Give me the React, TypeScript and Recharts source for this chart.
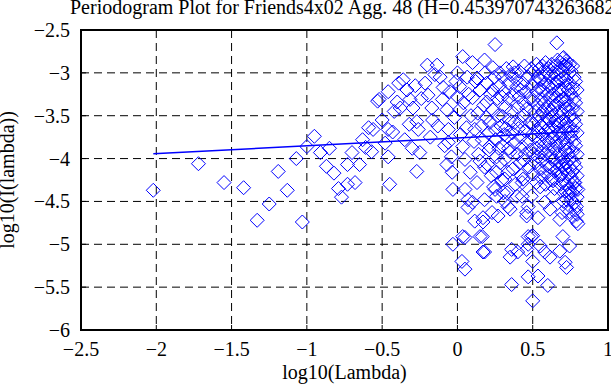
import React from 'react';
import { ScatterChart, Scatter, XAxis, YAxis, CartesianGrid, ReferenceArea } from 'recharts';

type Pt = [number, number];

const titleText = 'Periodogram Plot for Friends4x02 Agg. 48 (H=0.453970743263682)';
const xLabel = 'log10(Lambda)';
const yLabel = 'log10(I(lambda))';
const xTicks = [-2.5, -2, -1.5, -1, -0.5, 0, 0.5, 1];
const yTicks = [-6, -5.5, -5, -4.5, -4, -3.5, -3, -2.5];

// fitted regression line end points
const fitX = [-2.02, 0.8];
const fitY = [-3.945, -3.685];

// x < -0.5
const lowFreq: Pt[] = [
  [-2.02, -4.37], [-1.72, -4.06], [-1.55, -4.28], [-1.42, -4.34], [-1.33, -4.72], [-1.25, -4.53],
  [-1.19, -4.15], [-1.13, -4.37], [-1.07, -4.0], [-1.03, -4.74], [-1.0, -3.86], [-0.95, -3.74],
  [-0.91, -3.93], [-0.85, -3.88], [-0.87, -4.09], [-0.82, -4.17], [-0.79, -4.35], [-0.77, -4.45],
  [-0.73, -4.3], [-0.73, -4.07], [-0.7, -3.93], [-0.68, -4.28], [-0.65, -4.07], [-0.63, -3.78],
  [-0.61, -3.87], [-0.59, -3.64], [-0.57, -3.92], [-0.56, -3.66], [-0.53, -3.33],
];

// -0.5 .. 0
const midFreqA: Pt[] = [
  [-0.52, -3.31], [-0.5, -3.55], [-0.48, -3.82], [-0.46, -3.22], [-0.46, -3.66], [-0.46, -3.98],
  [-0.45, -4.3], [-0.43, -3.69], [-0.42, -3.45], [-0.4, -3.34], [-0.39, -3.12], [-0.38, -3.41],
  [-0.36, -3.08], [-0.35, -3.78], [-0.335, -3.2], [-0.32, -3.6], [-0.315, -3.31], [-0.3, -3.88],
  [-0.295, -3.41], [-0.28, -3.15], [-0.27, -3.57], [-0.26, -3.66], [-0.27, -4.15], [-0.25, -3.93],
  [-0.24, -3.3], [-0.215, -3.12], [-0.2, -2.91], [-0.195, -3.26], [-0.18, -3.75], [-0.17, -3.41],
  [-0.165, -3.55], [-0.15, -3.02], [-0.135, -2.91], [-0.13, -3.62], [-0.115, -3.05], [-0.1, -3.31],
  [-0.095, -3.17], [-0.085, -3.85], [-0.07, -3.43], [-0.07, -4.07], [-0.06, -3.66], [-0.06, -3.81],
  [-0.05, -3.22], [-0.04, -3.98], [-0.035, -4.16], [-0.03, -4.36], [-0.03, -5.0], [-0.02, -3.52],
  [-0.01, -3.1], [0.0, -3.0], [0.0, -3.28],
];

// 0 .. 0.3
const midFreqB: Pt[] = [
  [0.015, -3.43], [0.015, -3.16], [0.02, -3.72], [0.035, -2.81], [0.035, -3.86], [0.04, -3.35],
  [0.05, -4.01], [0.05, -4.36], [0.06, -3.64], [0.065, -3.05], [0.07, -4.48], [0.07, -4.57],
  [0.075, -3.25], [0.085, -4.16], [0.09, -3.5], [0.1, -2.88], [0.1, -3.29], [0.1, -4.51],
  [0.11, -3.8], [0.115, -3.66], [0.115, -4.73], [0.12, -3.1], [0.13, -3.06], [0.13, -4.28],
  [0.135, -3.47], [0.14, -3.95], [0.15, -4.03], [0.15, -3.2], [0.16, -3.62], [0.165, -3.78],
  [0.165, -4.91], [0.17, -4.69], [0.17, -5.09], [0.175, -3.38], [0.18, -2.85], [0.18, -4.1],
  [0.18, -4.48], [0.185, -3.0], [0.19, -3.52], [0.195, -3.12], [0.195, -3.34], [0.2, -4.07],
  [0.205, -3.7], [0.21, -3.9], [0.215, -3.58], [0.215, -3.86], [0.22, -3.25], [0.225, -4.2],
  [0.23, -4.63], [0.235, -2.94], [0.235, -3.2], [0.235, -3.43], [0.24, -4.33], [0.245, -3.05],
  [0.25, -2.67], [0.25, -3.66], [0.25, -4.36], [0.255, -3.78], [0.26, -3.98], [0.26, -4.16],
  [0.26, -4.44], [0.265, -3.3], [0.27, -4.67], [0.27, -3.5], [0.275, -3.88], [0.28, -3.0],
  [0.28, -3.15], [0.285, -4.05], [0.29, -3.62], [0.295, -3.28], [0.295, -4.25], [0.03, -5.2],
  [0.05, -5.29], [0.035, -4.91], [0.05, -4.92], [0.15, -4.91], [0.18, -5.09], [0.17, -4.74],
];

// 0.3 .. 0.5
const highFreqA: Pt[] = [
  [0.3, -3.51], [0.3, -3.05], [0.3, -3.85], [0.305, -4.4], [0.31, -3.22], [0.315, -4.01],
  [0.315, -4.24], [0.315, -4.5], [0.32, -3.4], [0.32, -3.65], [0.325, -2.95], [0.33, -3.74],
  [0.33, -4.4], [0.335, -4.16], [0.335, -4.56], [0.34, -3.12], [0.34, -3.3], [0.345, -3.55],
  [0.35, -3.92], [0.35, -4.59], [0.35, -5.15], [0.355, -3.02], [0.36, -3.45], [0.36, -5.06],
  [0.36, -5.47], [0.365, -3.7], [0.37, -2.93], [0.37, -4.12], [0.375, -3.25], [0.38, -3.58],
  [0.38, -3.82], [0.385, -4.3], [0.39, -3.08], [0.395, -3.16], [0.395, -4.44], [0.4, -3.4],
  [0.4, -5.09], [0.4, -3.95], [0.405, -3.65], [0.41, -2.98], [0.41, -3.28], [0.415, -3.57],
  [0.415, -4.05], [0.42, -3.75], [0.425, -4.2], [0.43, -3.86], [0.43, -4.44], [0.43, -4.28],
  [0.435, -3.12], [0.435, -4.24], [0.44, -3.35], [0.44, -3.5], [0.445, -2.92], [0.45, -3.68],
  [0.45, -3.95], [0.455, -3.22], [0.46, -4.63], [0.46, -4.67], [0.46, -5.06], [0.46, -3.42],
  [0.465, -3.8], [0.47, -4.56], [0.47, -4.91], [0.47, -5.38], [0.47, -3.05], [0.475, -4.1],
  [0.48, -3.3], [0.48, -3.58], [0.485, -3.9], [0.49, -4.44], [0.49, -4.91], [0.49, -2.95],
  [0.495, -3.15], [0.495, -3.72], [0.47, -5.0], [0.44, -4.02], [0.42, -3.2], [0.38, -3.0],
  [0.34, -3.88], [0.31, -3.72],
];

// 0.5 .. 0.8, outlying points
const tailPts: Pt[] = [
  [0.5, -5.2], [0.5, -5.66], [0.5, -4.9], [0.535, -5.37], [0.55, -5.02], [0.6, -5.48],
  [0.58, -5.09], [0.615, -5.15], [0.68, -5.08], [0.7, -4.91], [0.715, -5.21], [0.725, -5.27],
  [0.745, -5.02], [0.79, -4.73], [0.8, -4.76], [0.535, -4.69], [0.58, -4.51], [0.615, -4.59],
  [0.635, -4.44], [0.68, -4.71], [0.695, -4.63], [0.725, -4.48], [0.745, -4.4], [0.79, -4.56],
  [0.8, -4.36], [0.55, -4.33], [0.635, -4.26], [0.695, -4.09], [0.78, -4.28], [0.66, -2.65],
  [0.7, -2.83], [0.72, -2.9],
];

// 0.5 .. 0.8, dense core, read column by column
const coreColumns: [number, number[]][] = [
  [0.505, [-2.98, -3.32, -3.6, -3.95, -4.18]],
  [0.515, [-3.1, -3.45, -3.75, -4.05]],
  [0.525, [-2.9, -3.22, -3.55, -3.88, -4.28]],
  [0.535, [-3.05, -3.38, -3.68, -3.98]],
  [0.545, [-2.95, -3.18, -3.5, -3.8, -4.12]],
  [0.555, [-3.08, -3.3, -3.62, -3.92, -4.22]],
  [0.565, [-2.92, -3.2, -3.45, -3.72, -4.02]],
  [0.575, [-3.02, -3.35, -3.58, -3.85, -4.15]],
  [0.585, [-2.88, -3.12, -3.42, -3.68, -3.95, -4.3]],
  [0.595, [-3.0, -3.25, -3.52, -3.78, -4.08]],
  [0.605, [-2.95, -3.15, -3.4, -3.65, -3.9, -4.2]],
  [0.615, [-3.05, -3.3, -3.55, -3.82, -4.1]],
  [0.625, [-2.9, -3.18, -3.45, -3.7, -3.98, -4.25]],
  [0.635, [-3.0, -3.25, -3.5, -3.75, -4.02]],
  [0.645, [-2.92, -3.12, -3.38, -3.62, -3.88, -4.15, -4.35]],
  [0.655, [-3.02, -3.28, -3.55, -3.8, -4.05]],
  [0.665, [-2.85, -3.1, -3.35, -3.6, -3.85, -4.12]],
  [0.675, [-2.95, -3.2, -3.45, -3.7, -3.95, -4.2]],
  [0.685, [-2.88, -3.08, -3.32, -3.58, -3.82, -4.05, -4.3]],
  [0.695, [-2.98, -3.22, -3.48, -3.72, -3.98, -4.18]],
  [0.705, [-2.82, -3.05, -3.3, -3.55, -3.78, -4.02, -4.25, -4.5]],
  [0.715, [-2.92, -3.15, -3.4, -3.65, -3.9, -4.12, -4.38]],
  [0.725, [-2.86, -3.08, -3.32, -3.58, -3.82, -4.05, -4.3, -4.58]],
  [0.735, [-2.95, -3.2, -3.45, -3.7, -3.95, -4.18, -4.42]],
  [0.745, [-2.9, -3.12, -3.38, -3.62, -3.88, -4.1, -4.35, -4.62]],
  [0.755, [-2.98, -3.25, -3.5, -3.75, -4.0, -4.22, -4.48]],
  [0.765, [-2.92, -3.18, -3.42, -3.68, -3.92, -4.15, -4.4, -4.68]],
  [0.775, [-3.05, -3.3, -3.55, -3.8, -4.05, -4.28, -4.52]],
  [0.785, [-3.1, -3.35, -3.6, -3.85, -4.1, -4.35, -4.6]],
  [0.795, [-3.2, -3.45, -3.7, -3.95, -4.2, -4.45, -4.65]],
];

const corePts: Pt[] = coreColumns.flatMap(([x, ys]) => ys.map((y) => [x, y] as Pt));
const allPts: Pt[] = [...lowFreq, ...midFreqA, ...midFreqB, ...highFreqA, ...tailPts, ...corePts];
const scatterData = allPts.map(([x, y]) => ({ x, y }));
const fitData = fitX.map((x, i) => ({ x, y: fitY[i] }));

const FONT = 'Liberation Serif';
const fmt = (v: number) => String(v).replace('-', '\u2212');

const Diamond = (props: any) => {
  const { cx, cy } = props;
  if (cx == null || cy == null) return <g />;
  const r = 7;
  return (
    <path
      d={`M${cx},${cy - r}L${cx + r},${cy}L${cx},${cy + r}L${cx - r},${cy}Z`}
      fill="none"
      stroke="#0000ff"
      strokeWidth={1}
    />
  );
};

const NoShape = () => <g />;

const XTick = (props: any) => {
  const { x, y, payload } = props;
  return (
    <text x={x} y={y} dy={14} textAnchor="middle" fill="#000" style={{ fontFamily: FONT, fontSize: 20 }}>
      {fmt(payload.value)}
    </text>
  );
};

const YTick = (props: any) => {
  const { x, y, payload } = props;
  return (
    <text x={x} y={y} dy={7} textAnchor="end" fill="#000" style={{ fontFamily: FONT, fontSize: 20 }}>
      {fmt(payload.value)}
    </text>
  );
};

export default function App() {
  return (
    <div style={{ position: 'absolute', left: 0, top: 0, width: 611, height: 385, overflow: 'hidden', background: '#fff', fontFamily: FONT }}>
      <ScatterChart width={611} height={385} margin={{ top: 30, right: 3, bottom: 0, left: 0 }}>
        <CartesianGrid stroke="#000" strokeDasharray="8 5" />
        <XAxis
          type="number"
          dataKey="x"
          domain={[-2.5, 1]}
          ticks={xTicks}
          interval={0}
          axisLine={false}
          tickLine={{ stroke: '#000' }}
          tickSize={-5}
          tickMargin={17}
          height={55}
          tick={<XTick />}
          allowDataOverflow
        />
        <XAxis
          xAxisId="top"
          orientation="top"
          type="number"
          domain={[-2.5, 1]}
          ticks={xTicks}
          interval={0}
          axisLine={false}
          tickLine={{ stroke: '#000' }}
          tickSize={-5}
          tick={false}
          height={0}
          allowDataOverflow
        />
        <YAxis
          type="number"
          dataKey="y"
          domain={[-6, -2.5]}
          ticks={yTicks}
          interval={0}
          axisLine={false}
          tickLine={{ stroke: '#000' }}
          tickSize={-5}
          tickMargin={16}
          width={81}
          tick={<YTick />}
          allowDataOverflow
        />
        <YAxis
          yAxisId="right"
          orientation="right"
          type="number"
          domain={[-6, -2.5]}
          ticks={yTicks}
          interval={0}
          axisLine={false}
          tickLine={{ stroke: '#000' }}
          tickSize={-5}
          tick={false}
          width={0}
          allowDataOverflow
        />
        <Scatter data={scatterData} shape={Diamond} isAnimationActive={false} />
        <Scatter data={fitData} shape={NoShape} line={{ stroke: '#0000ff', strokeWidth: 1.5 }} isAnimationActive={false} />
        <ReferenceArea x1={-2.5} x2={1} y1={-6} y2={-2.5} fill="none" fillOpacity={0} stroke="#000" strokeWidth={2} ifOverflow="visible" />
      </ScatterChart>
      <svg width={611} height={385} style={{ position: 'absolute', left: 0, top: 0, pointerEvents: 'none' }}>
        <text x={70} y={14} fill="#000" style={{ fontFamily: FONT, fontSize: 20 }}>{titleText}</text>
        <text x={344.5} y={379} textAnchor="middle" fill="#000" style={{ fontFamily: FONT, fontSize: 20 }}>{xLabel}</text>
        <text
          x={14}
          y={180}
          textAnchor="middle"
          transform="rotate(-90, 14, 180)"
          fill="#000"
          style={{ fontFamily: FONT, fontSize: 20 }}
        >
          {yLabel}
        </text>
      </svg>
    </div>
  );
}
